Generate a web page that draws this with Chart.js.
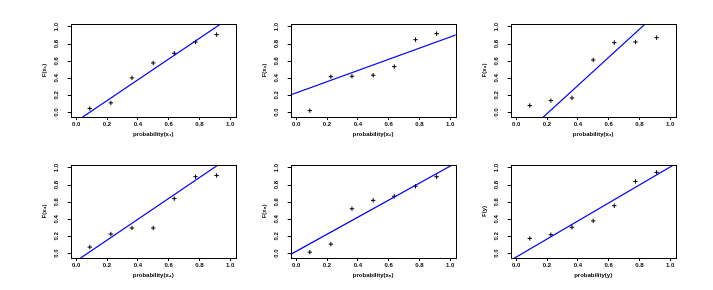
<!DOCTYPE html>
<html>
<head>
<meta charset="utf-8">
<script src="https://cdn.jsdelivr.net/npm/chart.js@4.4.0/dist/chart.umd.min.js"></script>
<style>
  html, body { margin: 0; padding: 0; background: #ffffff; }
  #wrap { position: relative; width: 713px; height: 290px; background: #ffffff; overflow: hidden; }
  .pane { position: absolute; }
  canvas { display: block; }
</style>
</head>
<body>
<div id="wrap"></div>
<script>
// ---- data ----
const plotPositions = [0.088, 0.225, 0.362, 0.5, 0.637, 0.775, 0.912];
const fX1 = [0.047, 0.113, 0.405, 0.580, 0.693, 0.825, 0.911];
const fX2 = [0.023, 0.420, 0.424, 0.436, 0.537, 0.852, 0.922];
const fX3 = [0.082, 0.140, 0.171, 0.615, 0.817, 0.825, 0.875];
const fX4 = [0.075, 0.228, 0.299, 0.299, 0.642, 0.898, 0.913];
const fX5 = [0.016, 0.110, 0.524, 0.622, 0.669, 0.787, 0.898];
const fY  = [0.177, 0.220, 0.307, 0.382, 0.559, 0.843, 0.949];
const lineIntercepts = [-0.103, 0.229, -0.342, -0.087, 0.027, -0.041];
const lineSlopes     = [1.213, 0.654, 1.644, 1.218, 0.995, 1.053];
const xTitles = ['probability(x\u2081)', 'probability(x\u2082)', 'probability(x\u2083)',
                 'probability(x\u2084)', 'probability(x\u2085)', 'probability(y)'];
const yTitles = ['F(x\u2081)', 'F(x\u2082)', 'F(x\u2083)', 'F(x\u2084)', 'F(x\u2085)', 'F(y)'];
const xTickValues = [0, 0.2, 0.4, 0.6, 0.8, 1.0];
const yTickValues = [0, 0.2, 0.4, 0.6, 0.8, 1.0];
const panelSeries = [fX1, fX2, fX3, fX4, fX5, fY];

// ---- layout ----
const CW = 225, CH = 141;
const FONT = { family: "'Liberation Sans', Arial, sans-serif", size: 6, weight: 'bold' };

const boxPlugin = {
  id: 'box',
  afterDatasetsDraw(chart) {
    const a = chart.chartArea, ctx = chart.ctx;
    ctx.save();
    ctx.strokeStyle = '#000';
    ctx.lineWidth = 1;
    ctx.strokeRect(Math.round(a.left) + 0.5, Math.round(a.top) + 0.5,
                   Math.round(a.right) - Math.round(a.left), Math.round(a.bottom) - Math.round(a.top));
    ctx.restore();
  }
};

const wrap = document.getElementById('wrap');
panelSeries.forEach((series, i) => {
  const col = i % 3, row = Math.floor(i / 3);
  const div = document.createElement('div');
  div.className = 'pane';
  div.style.left = (20 + 220 * col) + 'px';
  div.style.top = (141 * row) + 'px';
  div.style.width = CW + 'px';
  div.style.height = CH + 'px';
  const cv = document.createElement('canvas');
  cv.width = CW; cv.height = CH;
  cv.style.width = CW + 'px'; cv.style.height = CH + 'px';
  div.appendChild(cv);
  wrap.appendChild(div);

  const pts = plotPositions.map((x, k) => ({ x: x, y: series[k] }));
  const linePts = [-0.2, 1.2].map(x => ({ x: x, y: lineIntercepts[i] + lineSlopes[i] * x }));

  new Chart(cv, {
    type: 'scatter',
    data: { datasets: [
      { data: pts, pointStyle: 'cross', pointRadius: 2.2, pointBorderWidth: 1, borderColor: '#000', backgroundColor: '#000', showLine: false, order: 2 },
      { data: linePts, type: 'line', showLine: true, borderColor: '#0000ff', borderWidth: 1.2, pointRadius: 0, fill: false, order: 1 }
    ] },
    plugins: [boxPlugin],
    options: {
      responsive: false, maintainAspectRatio: false, animation: false, devicePixelRatio: 1, events: [],
      layout: { padding: { left: 0, right: 9.3, top: 24, bottom: 0 } },
      plugins: { legend: { display: false }, tooltip: { enabled: false } },
      scales: {
        x: {
          type: 'linear', min: -0.036, max: 1.036,
          afterBuildTicks: s => { s.ticks = xTickValues.map(v => ({ value: v })); },
          afterFit: s => { s.height = 24; },
          grid: { drawOnChartArea: false, drawTicks: true, tickLength: 3, color: '#000', lineWidth: 1 },
          border: { display: false },
          ticks: { autoSkip: false, maxRotation: 0, minRotation: 0, padding: 1, color: '#000', font: FONT, callback: v => Number(v).toFixed(1) },
          title: { display: true, text: xTitles[i], color: '#000', font: FONT, padding: { top: 0, bottom: 3 } }
        },
        y: {
          type: 'linear', min: -0.052, max: 1.035,
          afterBuildTicks: s => { s.ticks = yTickValues.map(v => ({ value: v })); },
          afterFit: s => { s.width = 50.7; },
          grid: { drawOnChartArea: false, drawTicks: true, tickLength: 3, color: '#000', lineWidth: 1 },
          border: { display: false },
          ticks: { autoSkip: false, minRotation: 90, maxRotation: 90, crossAlign: 'center', padding: 7, color: '#000', font: FONT, callback: v => Number(v).toFixed(1) },
          title: { display: true, text: yTitles[i], color: '#000', font: FONT, padding: { top: 20.4, bottom: 0 } }
        }
      }
    }
  });
});
</script>
</body>
</html>
